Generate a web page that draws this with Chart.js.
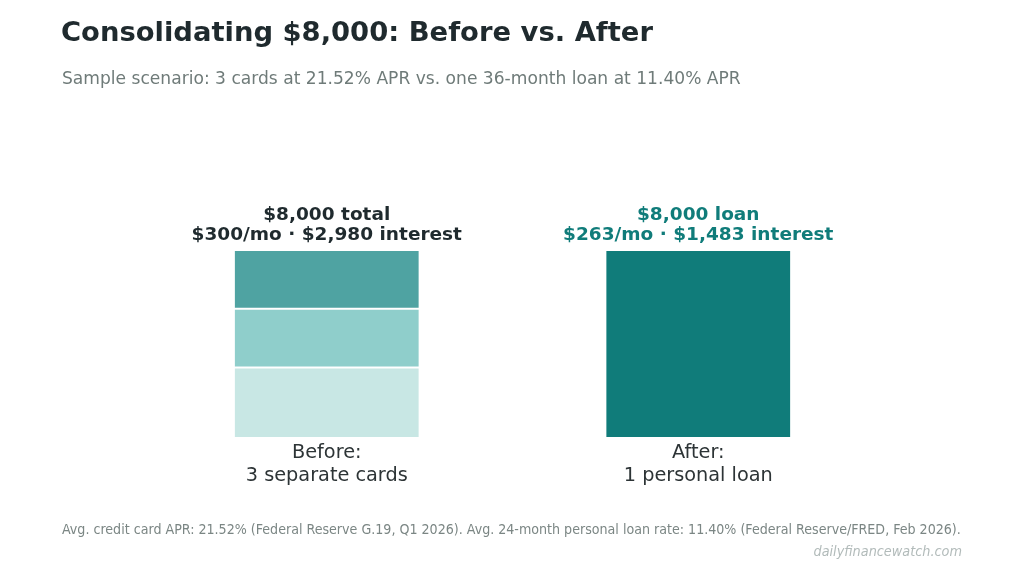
<!DOCTYPE html>
<html>
<head>
<meta charset="utf-8">
<script src="https://cdn.jsdelivr.net/npm/chart.js@4/dist/chart.umd.min.js"></script>
<style>
  body { margin: 0; background: #fff; font-family: "DejaVu Sans", sans-serif; }
  #wrap { position: relative; width: 1024px; height: 576px; overflow: hidden; }
  #myChart { position: absolute; left: 0; top: 0; }
  .txt { position: absolute; white-space: nowrap; }
  #title { left: 61px; top: 16px; font-size: 27.4px; font-weight: bold; color: #1f2a2e; }
  #sub { left: 62px; top: 68px; font-size: 17.1px; color: #6f7b79; }
  #note { left: 62px; top: 521px; font-size: 14.1px; color: #7b8684; font-family: "DejaVu Sans Condensed", "DejaVu Sans", sans-serif; font-stretch: condensed; }
  #mark { right: 62px; top: 543px; font-size: 14.3px; color: #b2bbba; font-style: italic; font-family: "DejaVu Sans Condensed", "DejaVu Sans", sans-serif; font-stretch: condensed; }
</style>
</head>
<body>
<div id="wrap">
  <canvas id="myChart" width="1024" height="576"></canvas>
  <div class="txt" id="title">Consolidating $8,000: Before vs. After</div>
  <div class="txt" id="sub">Sample scenario: 3 cards at 21.52% APR vs. one 36-month loan at 11.40% APR</div>
  <div class="txt" id="note">Avg. credit card APR: 21.52% (Federal Reserve G.19, Q1 2026). Avg. 24-month personal loan rate: 11.40% (Federal Reserve/FRED, Feb 2026).</div>
  <div class="txt" id="mark">dailyfinancewatch.com</div>
</div>
<script>
// data
var categories = [['Before:', '3 separate cards'], ['After:', '1 personal loan']];
var card1 = [3000, null];   // bottom segment
var card2 = [2500, null];
var card3 = [2500, null];   // top segment
var loan = [null, 8000];
var headLines = ['$8,000 total', '$8,000 loan'];
var subLines = ['$300/mo · $2,980 interest', '$263/mo · $1,483 interest'];
var labelColors = ['#1f2a2e', '#107c7a'];

// labels above each stacked bar
var topLabels = {
    id: 'topLabels',
    afterDatasetsDraw: function(chart) {
        var c = chart.ctx;
        var xs = chart.scales.x, ys = chart.scales.y;
        for (var i = 0; i < categories.length; i++) {
            var total = (card1[i] || 0) + (card2[i] || 0) + (card3[i] || 0) + (loan[i] || 0);
            var x = xs.getPixelForValue(i);
            var y = ys.getPixelForValue(total);
            c.save();
            c.fillStyle = labelColors[i];
            c.font = 'bold 18.5px "DejaVu Sans"';
            c.textAlign = 'center';
            c.textBaseline = 'middle';
            c.fillText(headLines[i], x, y - 35);
            c.fillText(subLines[i], x, y - 15);
            c.restore();
        }
    }
};

var ctx = document.getElementById('myChart').getContext('2d');
var chart = new Chart(ctx, {
    type: 'bar',
    data: {
        labels: categories,
        datasets: [
            { label: 'Card 1', data: card1, backgroundColor: '#c8e7e4' },
            { label: 'Card 2', data: card2, backgroundColor: '#8fcecb' },
            { label: 'Card 3', data: card3, backgroundColor: '#4fa3a2' },
            { label: 'Loan', data: loan, backgroundColor: '#107c7a' }
        ].map(function(d) {
            d.borderColor = '#ffffff';
            d.borderWidth = 1;
            d.borderSkipped = false;
            d.barPercentage = 0.5;
            d.categoryPercentage = 1.0;
            return d;
        })
    },
    plugins: [topLabels],
    options: {
        responsive: false,
        animation: false,
        layout: { padding: { left: 141, right: 140, top: 156, bottom: 86 } },
        plugins: {
            legend: { display: false },
            tooltip: { enabled: false }
        },
        scales: {
            x: {
                stacked: true,
                grid: { display: false, drawTicks: false },
                border: { display: false },
                ticks: {
                    color: '#2d3436',
                    padding: 3,
                    font: { family: 'DejaVu Sans', size: 19.3, lineHeight: 1.19 }
                }
            },
            y: {
                stacked: true,
                display: false,
                min: 0,
                max: 12000
            }
        }
    }
});
</script>
</body>
</html>
